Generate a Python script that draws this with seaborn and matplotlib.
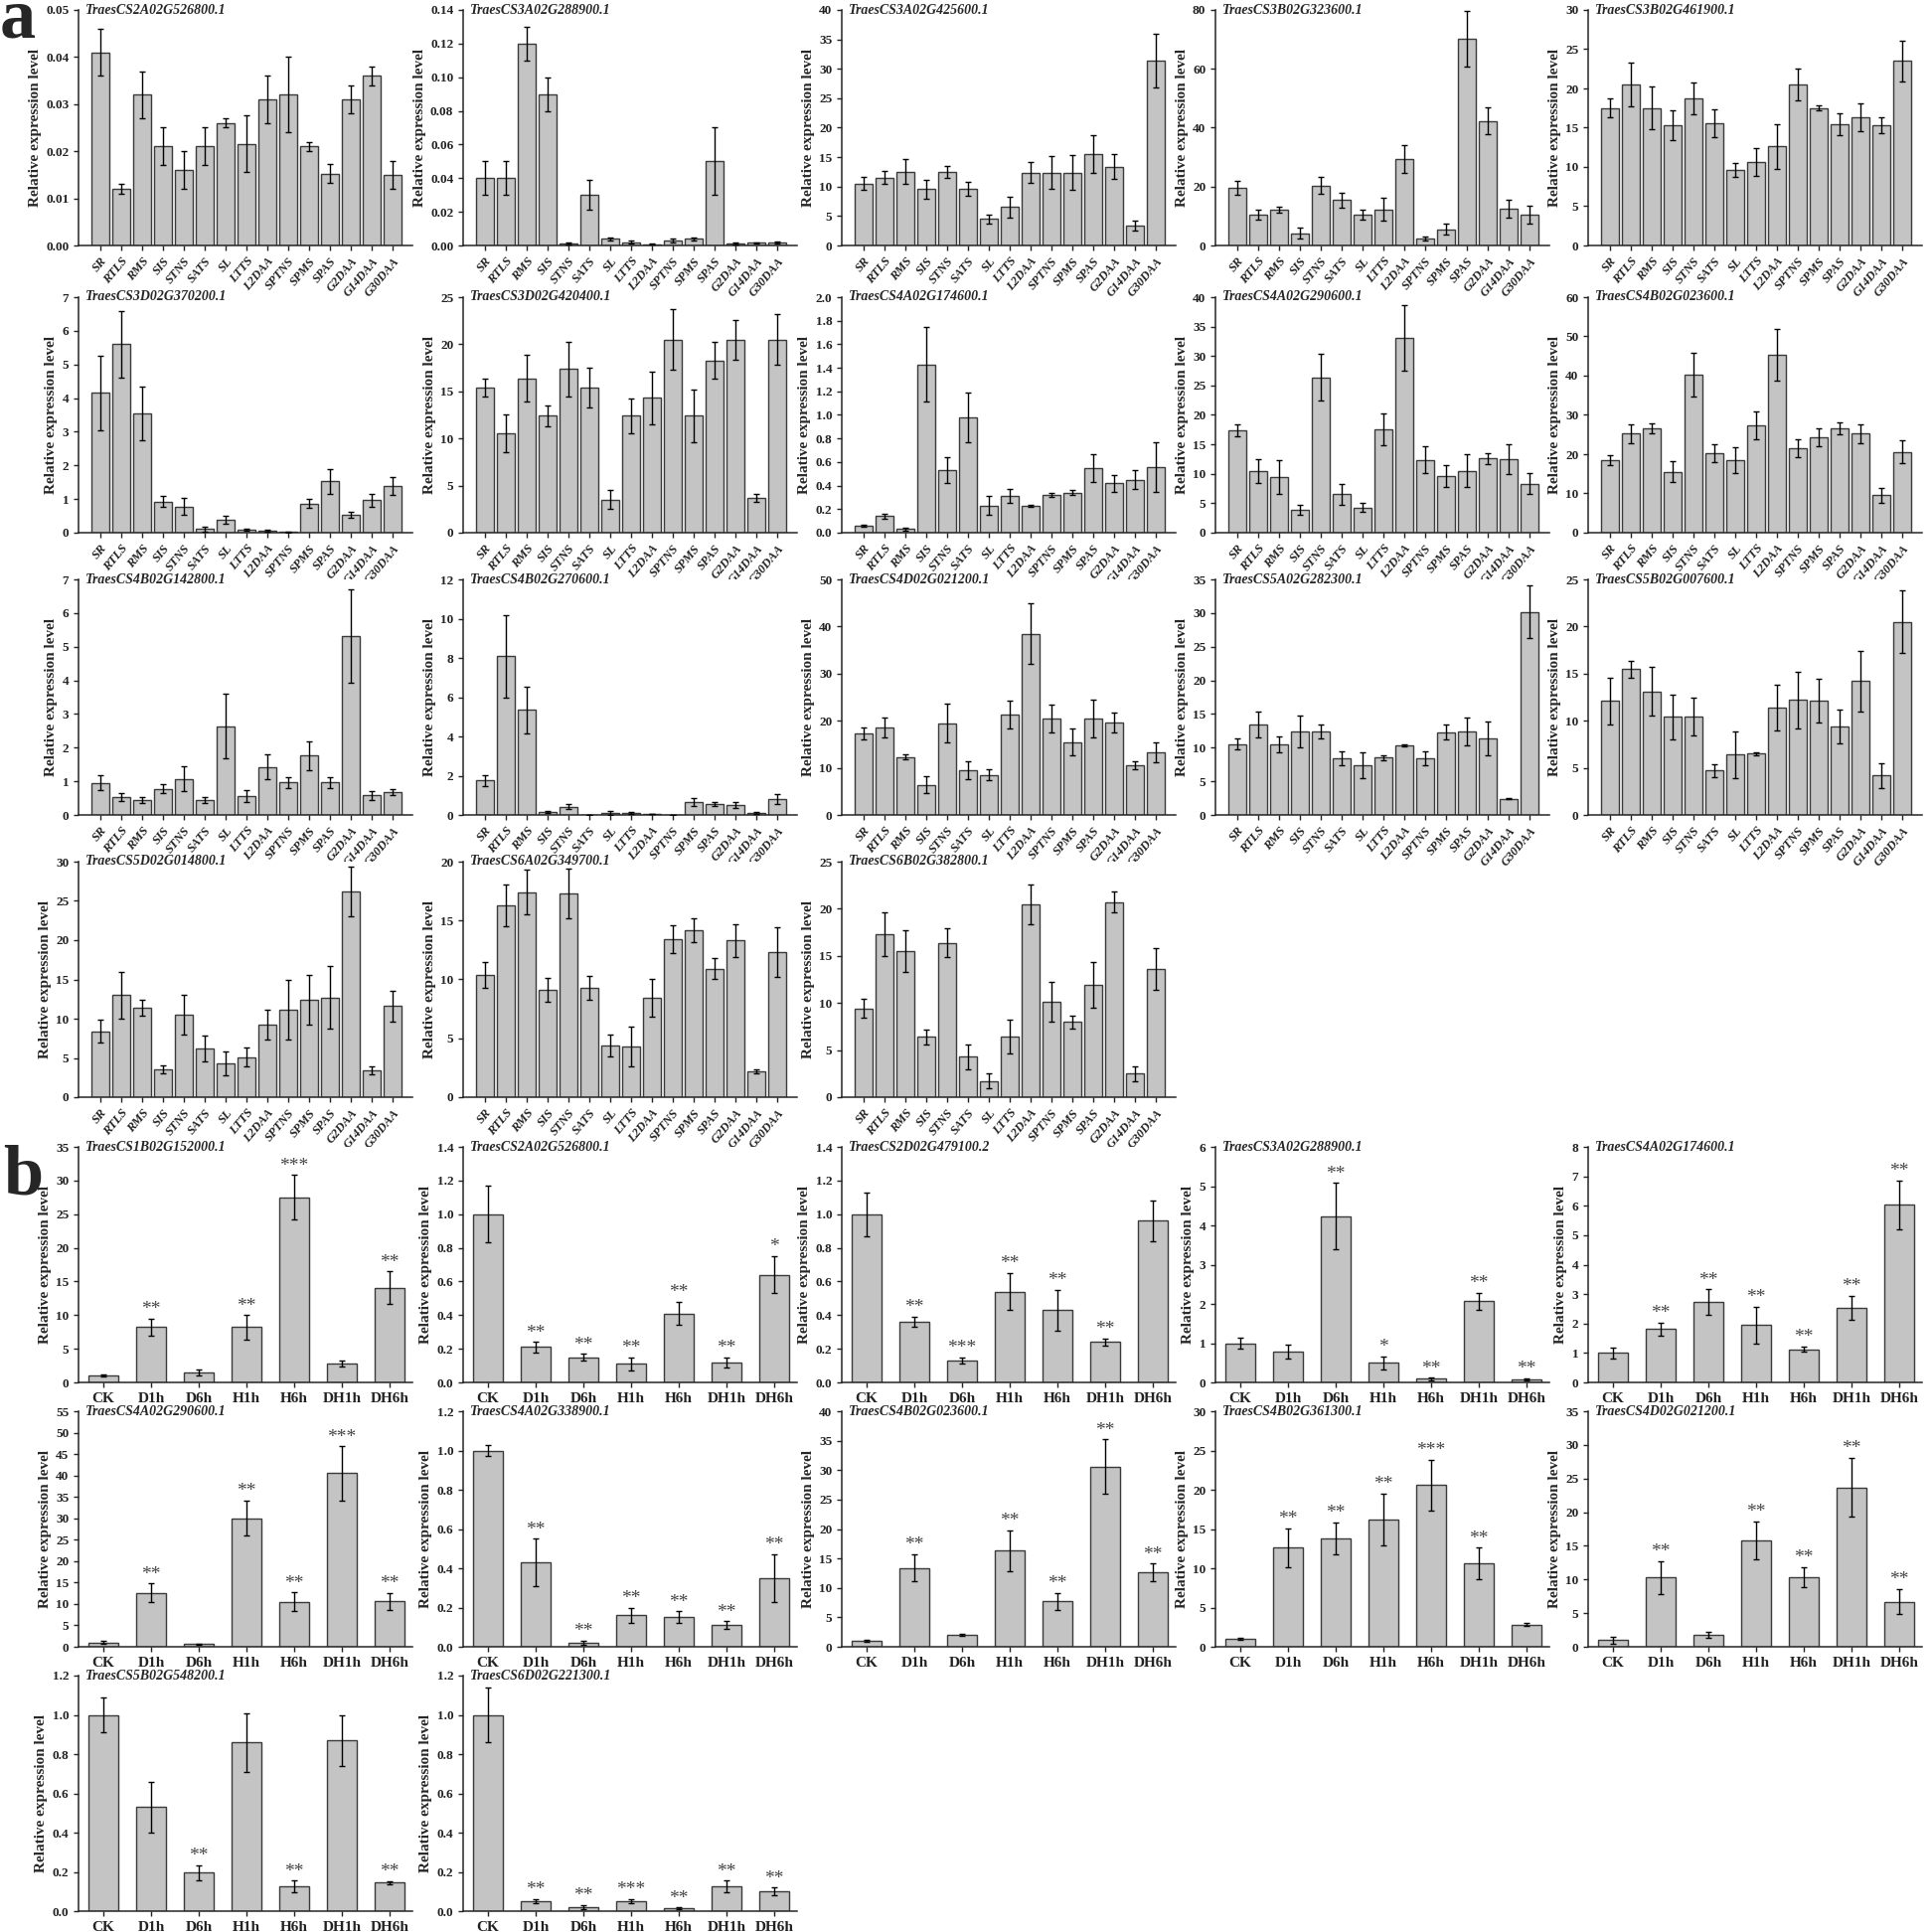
import numpy as np
import pandas as pd
import matplotlib
matplotlib.use("Agg")
import matplotlib.pyplot as plt
import seaborn as sns

# categories
tissues = ["SR", "RTLS", "RMS", "SIS", "STNS", "SATS", "SL", "LTTS", "L2DAA",
           "SPTNS", "SPMS", "SPAS", "G2DAA", "G14DAA", "G30DAA"]
treatments = ["CK", "D1h", "D6h", "H1h", "H6h", "DH1h", "DH6h"]

# ---- panel a: tissue expression ----
a_genes = ["TraesCS2A02G526800.1", "TraesCS3A02G288900.1", "TraesCS3A02G425600.1",
           "TraesCS3B02G323600.1", "TraesCS3B02G461900.1", "TraesCS3D02G370200.1",
           "TraesCS3D02G420400.1", "TraesCS4A02G174600.1", "TraesCS4A02G290600.1",
           "TraesCS4B02G023600.1", "TraesCS4B02G142800.1", "TraesCS4B02G270600.1",
           "TraesCS4D02G021200.1", "TraesCS5A02G282300.1", "TraesCS5B02G007600.1",
           "TraesCS5D02G014800.1", "TraesCS6A02G349700.1", "TraesCS6B02G382800.1"]
a_ymax = [0.05, 0.14, 40, 80, 30, 7, 25, 2.0, 40, 60, 7, 12, 50, 35, 25, 30, 20, 25]
a_ystep = [0.01, 0.02, 5, 20, 5, 1, 5, 0.2, 5, 10, 1, 2, 10, 5, 5, 5, 5, 5]
a_ydec = [2, 2, 0, 0, 0, 0, 0, 1, 0, 0, 0, 0, 0, 0, 0, 0, 0, 0]

a1_mean = [0.041, 0.012, 0.032, 0.021, 0.016, 0.021, 0.026, 0.0216, 0.031, 0.032, 0.021, 0.0152, 0.031, 0.036, 0.015]
a1_err = [0.005, 0.001, 0.005, 0.004, 0.004, 0.004, 0.001, 0.006, 0.005, 0.008, 0.001, 0.002, 0.003, 0.002, 0.003]
a2_mean = [0.04, 0.04, 0.12, 0.09, 0.001, 0.03, 0.004, 0.002, 0.0008, 0.003, 0.004, 0.05, 0.0013, 0.0015, 0.0018]
a2_err = [0.01, 0.01, 0.01, 0.01, 0.0005, 0.009, 0.001, 0.001, 0.0003, 0.001, 0.001, 0.02, 0.0007, 0.0003, 0.0007]
a3_mean = [10.5, 11.5, 12.5, 9.6, 12.5, 9.6, 4.5, 6.5, 12.4, 12.4, 12.4, 15.5, 13.4, 3.4, 31.4]
a3_err = [1.1, 1.1, 2.1, 1.6, 1.0, 1.2, 0.8, 1.7, 1.7, 2.8, 2.9, 3.2, 2.1, 0.9, 4.6]
a4_mean = [19.5, 10.5, 12.2, 4.2, 20.4, 15.4, 10.5, 12.3, 29.3, 2.3, 5.5, 70.2, 42.3, 12.4, 10.4]
a4_err = [2.3, 1.7, 1.0, 1.9, 3.0, 2.5, 1.7, 3.8, 4.8, 0.7, 1.8, 9.6, 4.5, 3.0, 3.0]
a5_mean = [17.5, 20.5, 17.5, 15.3, 18.7, 15.6, 9.6, 10.6, 12.6, 20.5, 17.5, 15.4, 16.3, 15.3, 23.5]
a5_err = [1.2, 2.8, 2.7, 1.9, 2.0, 1.8, 0.9, 1.8, 2.8, 2.0, 0.3, 1.4, 1.8, 1.0, 2.6]
a6_mean = [4.15, 5.6, 3.55, 0.93, 0.78, 0.11, 0.38, 0.08, 0.05, 0.02, 0.87, 1.53, 0.53, 0.96, 1.38]
a6_err = [1.1, 1.0, 0.8, 0.17, 0.26, 0.08, 0.12, 0.03, 0.03, 0.01, 0.14, 0.37, 0.1, 0.18, 0.26]
a7_mean = [15.4, 10.5, 16.4, 12.4, 17.4, 15.4, 3.5, 12.4, 14.3, 20.5, 12.4, 18.3, 20.5, 3.7, 20.5]
a7_err = [1.0, 2.0, 2.5, 1.1, 2.9, 2.1, 1.0, 1.8, 2.8, 3.2, 2.8, 2.0, 2.1, 0.4, 2.7]
a8_mean = [0.06, 0.14, 0.03, 1.43, 0.53, 0.98, 0.23, 0.31, 0.23, 0.32, 0.34, 0.55, 0.42, 0.45, 0.56]
a8_err = [0.01, 0.02, 0.01, 0.32, 0.11, 0.21, 0.08, 0.06, 0.01, 0.02, 0.02, 0.12, 0.07, 0.08, 0.21]
a9_mean = [17.4, 10.5, 9.5, 3.9, 26.4, 6.5, 4.3, 17.5, 33.1, 12.4, 9.6, 10.5, 12.6, 12.5, 8.3]
a9_err = [1.0, 2.0, 2.9, 0.9, 4.0, 1.7, 0.7, 2.7, 5.6, 2.3, 1.9, 2.8, 0.9, 2.6, 1.8]
a10_mean = [18.4, 25.3, 26.5, 15.5, 40.3, 20.3, 18.5, 27.4, 45.3, 21.6, 24.3, 26.5, 25.3, 9.6, 20.6]
a10_err = [1.3, 2.4, 1.3, 2.7, 5.5, 2.3, 3.3, 3.5, 6.5, 2.3, 2.3, 1.5, 2.4, 1.9, 3.0]
a11_mean = [0.95, 0.54, 0.43, 0.78, 1.07, 0.45, 2.64, 0.56, 1.42, 0.96, 1.76, 0.96, 5.32, 0.58, 0.67]
a11_err = [0.22, 0.12, 0.09, 0.13, 0.37, 0.09, 0.97, 0.17, 0.37, 0.17, 0.43, 0.17, 1.38, 0.13, 0.09]
a12_mean = [1.75, 8.1, 5.35, 0.15, 0.42, 0.0, 0.1, 0.12, 0.05, 0.0, 0.65, 0.55, 0.52, 0.1, 0.8]
a12_err = [0.3, 2.1, 1.2, 0.05, 0.12, 0.0, 0.08, 0.05, 0.02, 0.0, 0.2, 0.1, 0.15, 0.03, 0.25]
a13_mean = [17.3, 18.5, 12.3, 6.4, 19.5, 9.5, 8.5, 21.3, 38.5, 20.5, 15.5, 20.4, 19.6, 10.5, 13.3]
a13_err = [1.3, 2.1, 0.5, 1.8, 4.2, 1.9, 1.1, 3.0, 6.5, 2.9, 2.8, 4.0, 2.1, 0.9, 2.2]
a14_mean = [10.5, 13.4, 10.5, 12.4, 12.4, 8.4, 7.4, 8.5, 10.4, 8.4, 12.3, 12.4, 11.4, 2.4, 30.2]
a14_err = [0.8, 1.9, 1.2, 2.3, 1.1, 1.0, 1.9, 0.4, 0.15, 1.0, 1.1, 2.1, 2.5, 0.1, 3.9]
a15_mean = [12.1, 15.5, 13.1, 10.4, 10.4, 4.7, 6.4, 6.5, 11.4, 12.2, 12.1, 9.4, 14.2, 4.2, 20.5]
a15_err = [2.5, 0.9, 2.6, 2.4, 2.0, 0.7, 2.5, 0.15, 2.4, 3.0, 2.3, 1.8, 3.2, 1.3, 3.3]
a16_mean = [8.4, 13.0, 11.4, 3.5, 10.5, 6.2, 4.3, 5.1, 9.2, 11.2, 12.4, 12.7, 26.2, 3.4, 11.6]
a16_err = [1.5, 3.0, 1.0, 0.5, 2.5, 1.6, 1.5, 1.2, 1.9, 3.8, 3.2, 4.0, 3.2, 0.5, 2.0]
a17_mean = [10.4, 16.3, 17.4, 9.1, 17.3, 9.3, 4.4, 4.3, 8.4, 13.4, 14.2, 10.9, 13.3, 2.2, 12.3]
a17_err = [1.1, 1.8, 1.9, 1.0, 2.1, 1.0, 0.9, 1.7, 1.6, 1.2, 1.0, 0.9, 1.4, 0.2, 2.1]
a18_mean = [9.4, 17.3, 15.5, 6.4, 16.4, 4.3, 1.7, 6.4, 20.5, 10.1, 8.0, 11.9, 20.7, 2.5, 13.6]
a18_err = [1.0, 2.3, 2.2, 0.8, 1.5, 1.3, 0.8, 1.8, 2.1, 2.1, 0.7, 2.4, 1.1, 0.8, 2.2]

# ---- panel b: stress treatments ----
b_genes = ["TraesCS1B02G152000.1", "TraesCS2A02G526800.1", "TraesCS2D02G479100.2",
           "TraesCS3A02G288900.1", "TraesCS4A02G174600.1", "TraesCS4A02G290600.1",
           "TraesCS4A02G338900.1", "TraesCS4B02G023600.1", "TraesCS4B02G361300.1",
           "TraesCS4D02G021200.1", "TraesCS5B02G548200.1", "TraesCS6D02G221300.1"]
b_ymax = [35, 1.4, 1.4, 6, 8, 55, 1.2, 40, 30, 35, 1.2, 1.2]
b_ystep = [5, 0.2, 0.2, 1, 1, 5, 0.2, 5, 5, 5, 0.2, 0.2]
b_ydec = [0, 1, 1, 0, 0, 0, 1, 0, 0, 0, 1, 1]

b1_mean = [1.0, 8.2, 1.5, 8.2, 27.5, 2.8, 14.1]
b1_err = [0.15, 1.3, 0.4, 1.8, 3.3, 0.5, 2.4]
b1_sig = ["", "**", "", "**", "***", "", "**"]
b2_mean = [1.0, 0.21, 0.15, 0.11, 0.41, 0.12, 0.64]
b2_err = [0.17, 0.03, 0.02, 0.04, 0.07, 0.03, 0.11]
b2_sig = ["", "**", "**", "**", "**", "**", "*"]
b3_mean = [1.0, 0.36, 0.13, 0.54, 0.43, 0.24, 0.96]
b3_err = [0.13, 0.03, 0.02, 0.11, 0.12, 0.02, 0.12]
b3_sig = ["", "**", "***", "**", "**", "**", ""]
b4_mean = [1.0, 0.78, 4.23, 0.5, 0.09, 2.07, 0.08]
b4_err = [0.15, 0.17, 0.85, 0.16, 0.03, 0.21, 0.03]
b4_sig = ["", "", "**", "*", "**", "**", "**"]
b5_mean = [1.0, 1.81, 2.73, 1.95, 1.12, 2.53, 6.03]
b5_err = [0.19, 0.22, 0.43, 0.62, 0.09, 0.42, 0.82]
b5_sig = ["", "**", "**", "**", "**", "**", "**"]
b6_mean = [1.0, 12.6, 0.6, 30.0, 10.5, 40.5, 10.6]
b6_err = [0.3, 2.2, 0.2, 4.1, 2.2, 6.3, 2.0]
b6_sig = ["", "**", "", "**", "**", "***", "**"]
b7_mean = [1.0, 0.43, 0.02, 0.16, 0.15, 0.11, 0.35]
b7_err = [0.03, 0.12, 0.01, 0.04, 0.03, 0.02, 0.12]
b7_sig = ["", "**", "**", "**", "**", "**", "**"]
b8_mean = [1.0, 13.4, 2.0, 16.3, 7.7, 30.6, 12.6]
b8_err = [0.1, 2.3, 0.15, 3.5, 1.4, 4.6, 1.5]
b8_sig = ["", "**", "", "**", "**", "**", "**"]
b9_mean = [1.0, 12.6, 13.8, 16.2, 20.6, 10.6, 2.8]
b9_err = [0.1, 2.5, 2.0, 3.3, 3.2, 2.0, 0.2]
b9_sig = ["", "**", "**", "**", "***", "**", ""]
b10_mean = [1.0, 10.3, 1.8, 15.8, 10.3, 23.7, 6.7]
b10_err = [0.5, 2.4, 0.4, 2.8, 1.5, 4.4, 1.9]
b10_sig = ["", "**", "", "**", "**", "**", "**"]
b11_mean = [1.0, 0.53, 0.195, 0.86, 0.125, 0.87, 0.145]
b11_err = [0.09, 0.13, 0.04, 0.15, 0.03, 0.13, 0.008]
b11_sig = ["", "", "**", "", "**", "", "**"]
b12_mean = [1.0, 0.05, 0.02, 0.05, 0.015, 0.125, 0.1]
b12_err = [0.14, 0.01, 0.01, 0.01, 0.003, 0.03, 0.02]
b12_sig = ["", "**", "**", "***", "**", "**", "**"]

a_means = [a1_mean, a2_mean, a3_mean, a4_mean, a5_mean, a6_mean, a7_mean, a8_mean, a9_mean,
           a10_mean, a11_mean, a12_mean, a13_mean, a14_mean, a15_mean, a16_mean, a17_mean, a18_mean]
a_errs = [a1_err, a2_err, a3_err, a4_err, a5_err, a6_err, a7_err, a8_err, a9_err,
          a10_err, a11_err, a12_err, a13_err, a14_err, a15_err, a16_err, a17_err, a18_err]
b_means = [b1_mean, b2_mean, b3_mean, b4_mean, b5_mean, b6_mean, b7_mean, b8_mean, b9_mean,
           b10_mean, b11_mean, b12_mean]
b_errs = [b1_err, b2_err, b3_err, b4_err, b5_err, b6_err, b7_err, b8_err, b9_err,
          b10_err, b11_err, b12_err]
b_sigs = [b1_sig, b2_sig, b3_sig, b4_sig, b5_sig, b6_sig, b7_sig, b8_sig, b9_sig,
          b10_sig, b11_sig, b12_sig]

sns.set_style("ticks")
plt.rcParams['font.family'] = ['Liberation Serif', 'DejaVu Serif']
plt.rcParams['axes.linewidth'] = 1.1

BAR = "#c4c4c4"
EDGE = "#3a3a3a"
W = 1944.0

fig = plt.figure(figsize=(19.44, 19.44), dpi=100)

col_left = [79, 466, 847, 1223, 1598]
ax_w = 336
ax_h = 237
a_bottoms = [247, 536, 820, 1104]
b_bottoms = [1391, 1657, 1923]


def draw_panel(ax, cats, mean, err, title, ymax, step, dec, width, xlim, section, sig=None):
    df = pd.DataFrame({"cat": cats, "val": mean})
    sns.barplot(data=df, x="cat", y="val", ax=ax, color=BAR, edgecolor=EDGE,
                linewidth=1.0, width=width, saturation=1, errorbar=None)
    x = np.arange(len(cats))
    ax.errorbar(x, mean, yerr=err, fmt="none", ecolor="black", elinewidth=1,
                capsize=2.5, capthick=1, zorder=3)
    ax.set_xlim(*xlim)
    ax.set_ylim(0, ymax)
    ticks = np.arange(0, ymax + step / 2, step)
    ax.set_yticks(ticks)
    ax.set_yticklabels([f"{t:.{dec}f}" for t in ticks], fontsize=9.5, fontweight="bold")
    ax.set_xlabel("")
    ax.set_ylabel("Relative expression level", fontsize=11, fontweight="bold", labelpad=3)
    sns.despine(ax=ax)
    ax.tick_params(axis="both", direction="out", length=3.5, width=1, colors="#222222")
    ax.set_xticks(x)
    if section == "a":
        ax.set_xticklabels(cats, fontsize=9, fontweight="bold", fontstyle="italic",
                           rotation=50, ha="right", rotation_mode="anchor")
    else:
        ax.set_xticklabels(cats, fontsize=11, fontweight="bold")
    ax.text(0.02, 1.0, title, transform=ax.transAxes, fontsize=10, fontweight="bold",
            fontstyle="italic", va="center", ha="left")
    if sig is not None:
        for i, s in enumerate(sig):
            if s:
                ax.text(i, mean[i] + err[i] + ymax * 0.003, s, ha="center", va="bottom",
                        fontsize=14, color="#444444")


for k in range(len(a_genes)):
    r, c = divmod(k, 5)
    ax = fig.add_axes([col_left[c] / W, 1 - a_bottoms[r] / W, ax_w / W, ax_h / W])
    draw_panel(ax, tissues, a_means[k], a_errs[k], a_genes[k], a_ymax[k], a_ystep[k],
               a_ydec[k], 0.86, (-1.04, 14.96), "a")

for k in range(len(b_genes)):
    r, c = divmod(k, 5)
    ax = fig.add_axes([col_left[c] / W, 1 - b_bottoms[r] / W, ax_w / W, ax_h / W])
    draw_panel(ax, treatments, b_means[k], b_errs[k], b_genes[k], b_ymax[k], b_ystep[k],
               b_ydec[k], 0.62, (-0.52, 6.48), "b", sig=b_sigs[k])

fig.text(0.0, 1 - 38 / W, "a", fontsize=52, fontweight="bold", va="baseline", ha="left")
fig.text(3 / W, 1 - 1201 / W, "b", fontsize=52, fontweight="bold", va="baseline", ha="left")

fig.savefig("out.png", dpi=100, facecolor="white")
